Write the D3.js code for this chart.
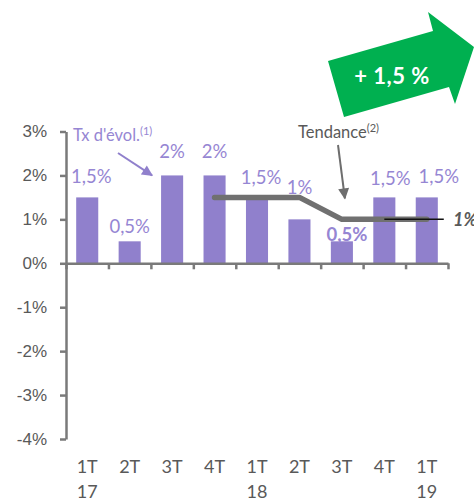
<!DOCTYPE html>
<html lang="fr">
<head>
<meta charset="utf-8">
<title>Tx d'évolution trimestriel</title>
<script src="https://cdn.jsdelivr.net/npm/d3@7"></script>
<style>
body { margin: 0; background: #fff; }
svg { font-family: Lato, "Open Sans", sans-serif; }
.axis path, .axis line { stroke: #7a7a7a; stroke-width: 2.5px; }
.axis text { fill: #595959; font-size: 17px; }
.bar { fill: #9080cc; }
.lbl { fill: #9686d3; font-size: 18.5px; text-anchor: middle; }
.trend { fill: none; stroke: #707070; stroke-width: 5.5px; stroke-linecap: round; stroke-linejoin: round; }
</style>
</head>
<body>
<script>

// data
var quarters = ["1T", "2T", "3T", "4T", "1T", "2T", "3T", "4T", "1T"];
var years    = ["17", "", "", "", "18", "", "", "", "19"];
var categories = ["1T17", "2T17", "3T17", "4T17", "1T18", "2T18", "3T18", "4T18", "1T19"];
var growth   = [1.5, 0.5, 2, 2, 1.5, 1, 0.5, 1.5, 1.5];
var growthLabels = ["1,5%", "0,5%", "2%", "2%", "1,5%", "1%", "0,5%", "1,5%", "1,5%"];
var trendCats = ["4T17", "1T18", "2T18", "3T18", "4T18", "1T19"];
var trend    = [1.5, 1.5, 1.5, 1, 1, 1];
var target   = 1;
var yTicks   = [-4, -3, -2, -1, 0, 1, 2, 3];

// label nudges (layout only) : [dx, dy above bar top]
var nudge = [[4, 21], [0, 15], [0, 24], [0, 24], [4, 20], [0, 32], [5, 7], [6, 19], [12, 21]];

var width = 474, height = 501;

var svg = d3.select("body").append("svg")
    .attr("width", width)
    .attr("height", height);

var x = d3.scaleBand()
    .domain(categories)
    .range([66, 448])
    .paddingInner(0.48)
    .paddingOuter(0.24);

var xEdge = d3.scaleLinear().domain([0, categories.length]).range([66, 448]);

var y = d3.scaleLinear().domain([-4, 3]).range([439, 131.5]);

function cx(c) { return x(c) + x.bandwidth() / 2; }

// green arrow (decoration)
svg.append("polygon")
    .attr("points", "344,117 328,61 433,31 428,12 474,47 455,104 449,87")
    .attr("fill", "#00b050");
svg.append("text")
    .attr("x", 392).attr("y", 84)
    .attr("text-anchor", "middle")
    .attr("fill", "#fff")
    .style("font-weight", "bold")
    .style("font-size", "22px")
    .style("letter-spacing", "0.5px")
    .text("+ 1,5 %");

// bars
svg.selectAll(".bar")
    .data(growth)
  .enter().append("rect")
    .attr("class", "bar")
    .attr("x", function(d, i) { return x(categories[i]); })
    .attr("width", x.bandwidth())
    .attr("y", function(d) { return y(d); })
    .attr("height", function(d) { return y(0) - y(d); });

// axes
svg.append("g")
    .attr("class", "axis")
    .attr("transform", "translate(66,0)")
    .call(d3.axisLeft(y).tickValues(yTicks).tickSize(6).tickSizeOuter(0).tickPadding(13)
      .tickFormat(function(d) { return d + "%"; }));

svg.append("g")
    .attr("class", "axis")
    .attr("transform", "translate(0," + y(0) + ")")
    .call(d3.axisBottom(xEdge).tickValues(d3.range(categories.length + 1)).tickSize(6).tickSizeOuter(0)
      .tickFormat(""));

// x labels, two lines
var xl = svg.append("g").attr("fill", "#595959").style("font-size", "18px").attr("text-anchor", "middle");
categories.forEach(function(c, i) {
  xl.append("text").attr("x", cx(c)).attr("y", 473).text(quarters[i]);
  if (years[i]) xl.append("text").attr("x", cx(c)).attr("y", 498).text(years[i]);
});

// trend line
var line = d3.line()
    .x(function(d, i) { return cx(trendCats[i]); })
    .y(function(d) { return y(d); });

svg.append("path")
    .datum(trend)
    .attr("class", "trend")
    .attr("d", line);

// target marker
svg.append("line")
    .attr("x1", cx("4T18")).attr("x2", cx("1T19") + 17)
    .attr("y1", y(target)).attr("y2", y(target))
    .attr("stroke", "#111").attr("stroke-width", 1.5);
svg.append("text")
    .attr("x", 453).attr("y", y(target) + 7)
    .attr("fill", "#595959")
    .style("font-weight", "bold").style("font-style", "italic").style("font-size", "18px")
    .text(target + "%");

// value labels
svg.selectAll(".lbl")
    .data(growth)
  .enter().append("text")
    .attr("class", "lbl")
    .attr("x", function(d, i) { return cx(categories[i]) + nudge[i][0]; })
    .attr("y", function(d, i) { return y(d) - nudge[i][1] + 6.5; })
    .style("font-weight", function(d, i) { return categories[i] === "3T18" ? "bold" : null; })
    .text(function(d, i) { return growthLabels[i]; });

// annotations
var defs = svg.append("defs");
function marker(id, col) {
  defs.append("marker")
      .attr("id", id).attr("viewBox", "0 0 10 10")
      .attr("refX", 9).attr("refY", 5)
      .attr("markerWidth", 6).attr("markerHeight", 5.5)
      .attr("orient", "auto")
    .append("path").attr("d", "M0,0L10,5L0,10z").attr("fill", col);
}
marker("hp", "#9080cc");
marker("hg", "#6e6e6e");

var tx = svg.append("text").attr("x", 73).attr("y", 141).attr("fill", "#9686d3").style("font-size", "16.5px");
tx.append("tspan").text("Tx d'évol.");
tx.append("tspan").attr("dy", -6).style("font-size", "11px").text("(1)");

svg.append("line")
    .attr("x1", 118).attr("y1", 153)
    .attr("x2", x("3T17") - 9).attr("y2", y(2))
    .attr("stroke", "#9080cc").attr("stroke-width", 2)
    .attr("marker-end", "url(#hp)");

var td = svg.append("text").attr("x", 298).attr("y", 138).attr("fill", "#595959").style("font-size", "16.5px");
td.append("tspan").text("Tendance");
td.append("tspan").attr("dy", -6).style("font-size", "11px").text("(2)");

svg.append("line")
    .attr("x1", 338).attr("y1", 145)
    .attr("x2", cx("3T18") + 3).attr("y2", y(1) - 21)
    .attr("stroke", "#6e6e6e").attr("stroke-width", 2)
    .attr("marker-end", "url(#hg)");

</script>
</body>
</html>
